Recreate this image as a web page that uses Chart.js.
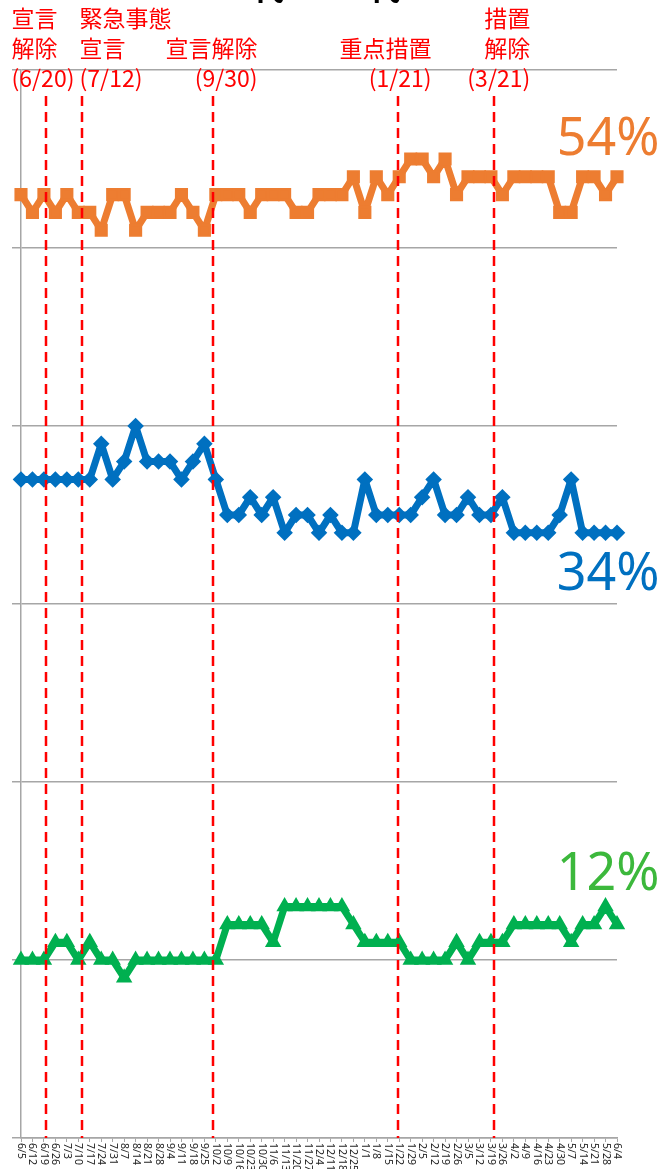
<!DOCTYPE html>
<html>
<head>
<meta charset="utf-8">
<script src="https://cdn.jsdelivr.net/npm/chart.js@4.4.1/dist/chart.umd.min.js"></script>
<style>
  html, body { margin: 0; padding: 0; background: #fff; }
  #wrap { width: 658px; height: 1169px; }
</style>
</head>
<body>
<div id="wrap"><canvas id="chart" width="658" height="1169"></canvas></div>
<script>
// weekly points, 2020/6/5 .. 2021/6/4
const weekLabels = [
  '6/5', '6/12', '6/19', '6/26', '7/3', '7/10', '7/17', '7/24', '7/31',
  '8/7', '8/14', '8/21', '8/28', '9/4', '9/11', '9/18', '9/25',
  '10/2', '10/9', '10/16', '10/23', '10/30', '11/6', '11/13', '11/20', '11/27',
  '12/4', '12/11', '12/18', '12/25', '1/1', '1/8', '1/15', '1/22', '1/29',
  '2/5', '2/12', '2/19', '2/26', '3/5', '3/12', '3/19', '3/26',
  '4/2', '4/9', '4/16', '4/23', '4/30', '5/7', '5/14', '5/21', '5/28', '6/4'
];
const orangeValues = [
  53, 52, 53, 52, 53, 52, 52, 51, 53, 53, 51, 52, 52, 52, 53, 52, 51, 53,
  53, 53, 52, 53, 53, 53, 52, 52, 53, 53, 53, 54, 52, 54, 53, 54, 55, 55,
  54, 55, 53, 54, 54, 54, 53, 54, 54, 54, 54, 52, 52, 54, 54, 53, 54
];
const blueValues = [
  37, 37, 37, 37, 37, 37, 37, 39, 37, 38, 40, 38, 38, 38, 37, 38, 39, 37,
  35, 35, 36, 35, 36, 34, 35, 35, 34, 35, 34, 34, 37, 35, 35, 35, 35, 36,
  37, 35, 35, 36, 35, 35, 36, 34, 34, 34, 34, 35, 37, 34, 34, 34, 34
];
const greenValues = [
  10, 10, 10, 11, 11, 10, 11, 10, 10, 9, 10, 10, 10, 10, 10, 10, 10, 10,
  12, 12, 12, 12, 11, 13, 13, 13, 13, 13, 13, 12, 11, 11, 11, 11, 10, 10,
  10, 10, 11, 10, 11, 11, 11, 12, 12, 12, 12, 12, 11, 12, 12, 13, 12
];
const yTicks = [0, 10, 20, 30, 40, 50, 60];

const firstWeek = '2020-06-05';
const eventDates = ['2020-06-20', '2020-07-12', '2020-09-30', '2021-01-21', '2021-03-21'];
const eventTexts = [
  ['宣言', '解除', '(6/20)'],
  ['緊急事態', '宣言', '(7/12)'],
  ['宣言解除', '(9/30)'],
  ['重点措置', '(1/21)'],
  ['措置', '解除', '(3/21)']
];
const titleText = '40代 ～ 20代';

// where each event caption sits relative to its dashed line
const captionLayout = [
  { align: 'left', dx: -34 },
  { align: 'left', dx: -2 },
  { align: 'right', dx: 45 },
  { align: 'right', dx: 34 },
  { align: 'right', dx: 36 }
];

const ORANGE = '#ED7D31';
const BLUE = '#0070C0';
const GREEN = '#00B050';
const GRID = '#A6A6A6';
const RED = '#FF0000';
const JP_FONT = '"Noto Sans CJK JP", "Noto Sans", sans-serif';

const weekIndex = (d) => (new Date(d) - new Date(firstWeek)) / (7 * 24 * 3600 * 1000);

const eventLines = {
  id: 'eventLines',
  afterDatasetsDraw(chart) {
    const { ctx, chartArea, scales: { x } } = chart;
    ctx.save();
    ctx.strokeStyle = RED;
    ctx.lineWidth = 2.5;
    ctx.setLineDash([10, 6]);
    eventDates.forEach((d) => {
      const px = Math.round(x.getPixelForValue(weekIndex(d)));
      ctx.beginPath();
      ctx.moveTo(px, 96);
      ctx.lineTo(px, chartArea.bottom);
      ctx.stroke();
    });
    ctx.restore();
  }
};

const textLayer = {
  id: 'textLayer',
  afterDraw(chart) {
    const { ctx, scales: { x, y } } = chart;
    ctx.save();

    // cut-off title at the very top
    ctx.fillStyle = '#000';
    ctx.font = 'bold 32px ' + JP_FONT;
    ctx.textAlign = 'center';
    ctx.textBaseline = 'alphabetic';
    ctx.fillText(titleText, 308, 0);

    // event captions
    ctx.fillStyle = RED;
    ctx.font = '23px ' + JP_FONT;
    ctx.textBaseline = 'middle';
    eventDates.forEach((d, i) => {
      const px = x.getPixelForValue(weekIndex(d));
      const lines = eventTexts[i];
      const lay = captionLayout[i];
      ctx.textAlign = lay.align;
      lines.forEach((t, j) => {
        const ly = 78 - (lines.length - 1 - j) * 30;
        ctx.fillText(t, px + lay.dx, ly);
      });
    });

    // end-value labels
    ctx.font = '52px "Noto Sans", sans-serif';
    ctx.textAlign = 'center';
    const endLabels = [
      { data: orangeValues, color: ORANGE, dy: -37 },
      { data: blueValues, color: BLUE, dy: 42 },
      { data: greenValues, color: '#3CB83C', dy: -49 }
    ];
    endLabels.forEach((l) => {
      const last = l.data.length - 1;
      const px = x.getPixelForValue(last);
      const py = y.getPixelForValue(l.data[last]);
      ctx.fillStyle = l.color;
      ctx.fillText(l.data[last] + '%', px - 9, py + l.dy);
    });

    // rotated week labels under the axis
    ctx.fillStyle = '#222';
    ctx.font = '10.5px "Noto Sans", sans-serif';
    ctx.textAlign = 'left';
    ctx.textBaseline = 'middle';
    weekLabels.forEach((lab, i) => {
      ctx.save();
      ctx.translate(x.getPixelForTick(i), x.top + 5);
      ctx.rotate(Math.PI / 2);
      ctx.fillText(lab, 0, 0);
      ctx.restore();
    });

    ctx.restore();
  }
};

const lineSet = (values, color, style, radius) => ({
  data: values,
  borderColor: color,
  backgroundColor: color,
  borderWidth: 7,
  borderJoinStyle: 'round',
  borderCapStyle: 'round',
  tension: 0,
  pointStyle: style,
  pointRadius: radius,
  pointBackgroundColor: color,
  pointBorderColor: color,
  pointBorderWidth: 2.5,
  clip: false
});

const chartContext = document.getElementById('chart').getContext('2d');
new Chart(chartContext, {
  type: 'line',
  data: {
    labels: weekLabels,
    datasets: [
      lineSet(orangeValues, ORANGE, 'rect', 7.5),
      lineSet(blueValues, BLUE, 'rectRot', 6.5),
      lineSet(greenValues, GREEN, 'triangle', 7)
    ]
  },
  options: {
    responsive: false,
    animation: false,
    devicePixelRatio: 1,
    events: [],
    layout: { padding: { left: 12, right: 41, top: 70, bottom: 27 } },
    plugins: {
      legend: { display: false },
      tooltip: { enabled: false }
    },
    scales: {
      x: {
        offset: false,
        grid: {
          drawOnChartArea: false,
          drawTicks: true,
          tickLength: 4,
          color: GRID,
          lineWidth: 1
        },
        border: { color: GRID, width: 1.5 },
        ticks: { display: false, autoSkip: false }
      },
      y: {
        min: yTicks[0],
        max: yTicks[yTicks.length - 1],
        afterBuildTicks: (s) => { s.ticks = yTicks.map((v) => ({ value: v })); },
        ticks: { display: false },
        grid: { color: GRID, lineWidth: 1.5, tickLength: 9 },
        border: { color: GRID, width: 1.5 }
      }
    }
  },
  plugins: [eventLines, textLayer]
});
</script>
</body>
</html>
